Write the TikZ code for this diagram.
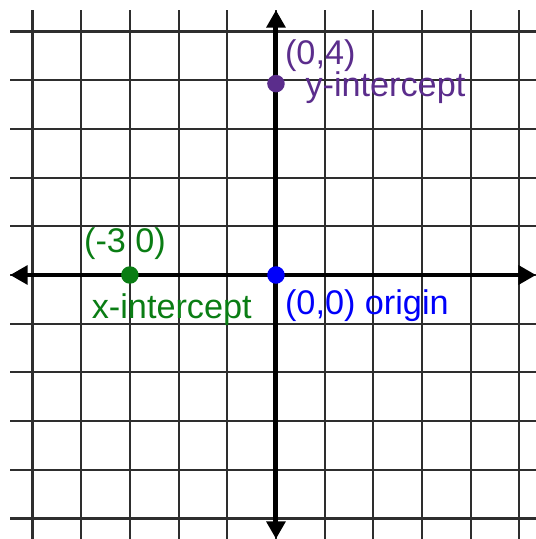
\documentclass[tikz,border=0pt]{standalone}
\usepackage{fontspec}
\setmainfont{Liberation Sans}
\usepackage{tikz}
\usetikzlibrary{arrows.meta,positioning}
\definecolor{ycol}{RGB}{91,45,140}
\definecolor{xcol}{RGB}{10,125,20}
\definecolor{ocol}{RGB}{0,0,250}

\tikzset{
  gridline/.style={line width=1.2pt, black!82},
  axis/.style={line width=2.9pt, {Triangle[length=0.36cm,width=0.38cm]}-{Triangle[length=0.36cm,width=0.38cm]}},
  dot/.style={circle, inner sep=0pt, minimum size=0.36cm},
  lab/.style={font=\fontsize{20}{22}\selectfont, inner sep=0pt}
}

\begin{document}
\begin{tikzpicture}[scale=1]
    \useasboundingbox (-5.667,-5.421) rectangle (5.339,5.647);
    \foreach \i in {-5,...,5} {
        \draw[gridline] (\i,-5.45) -- (\i,5.44);
        \draw[gridline] (-5.46,\i) -- (5.36,\i);
    }
    \coordinate (xl) at (-5.46,0);
    \coordinate (xr) at (5.34,0);
    \coordinate (yb) at (0,-5.42);
    \coordinate (yt) at (0,5.44);
    \draw[axis] (xl) -- (xr);
    \draw[axis] (yb) -- (yt);
    \node[dot, fill=ycol] (yint) at (0,3.93) {};
    \node[dot, fill=xcol] (xint) at (-3,0) {};
    \node[dot, fill=ocol] (orig) at (0,0) {};
    \node[lab, ycol, anchor=west] (ypt) at (0.18,4.5) {(0,4)};
    \node[lab, ycol, anchor=west] (ytext) at (0.6,3.84) {y-intercept};
    \node[lab, xcol] (xpt) at (-3.1,0.64) {(-3 0)};
    \node[lab, xcol] (xtext) at (-2.14,-0.72) {x-intercept};
    \node[lab, ocol, anchor=west] (otext) at (0.18,-0.62) {(0,0) origin};
\end{tikzpicture}
\end{document}
